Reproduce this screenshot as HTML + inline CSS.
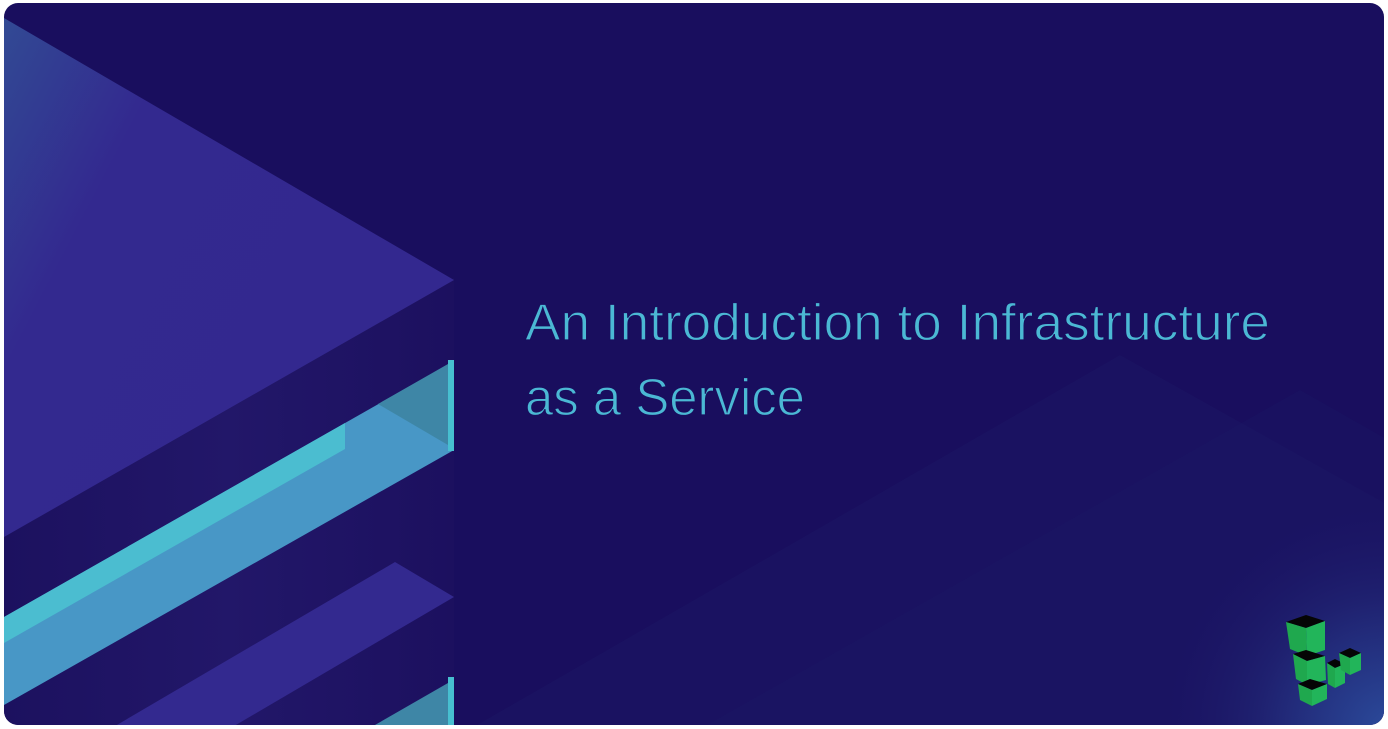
<!DOCTYPE html>
<html><head><meta charset="utf-8"><style>
html,body{margin:0;padding:0;background:#fff;width:1388px;height:729px;overflow:hidden}
svg{display:block}
</style></head><body>
<svg width="1388" height="729" viewBox="0 0 1388 729" xmlns="http://www.w3.org/2000/svg">
<defs>
<clipPath id="c"><rect x="4" y="3" width="1380" height="722" rx="14"/></clipPath>
<linearGradient id="tri" x1="0" y1="0" x2="1" y2="0.6">
<stop offset="0" stop-color="#324a94"/><stop offset="0.3" stop-color="#33298f"/><stop offset="1" stop-color="#33288f"/>
</linearGradient>
<linearGradient id="band" x1="0" y1="0" x2="1" y2="0">
<stop offset="0" stop-color="#1c115f"/><stop offset="0.5" stop-color="#221769"/><stop offset="1" stop-color="#1c105f"/>
</linearGradient>
<radialGradient id="glow" cx="1388" cy="729" r="260" gradientUnits="userSpaceOnUse">
<stop offset="0" stop-color="#2b4a9a"/><stop offset="0.5" stop-color="#1f2170"/><stop offset="1" stop-color="#190e5e" stop-opacity="0"/>
</radialGradient>
</defs>
<g clip-path="url(#c)">
<rect x="0" y="0" width="1388" height="729" fill="#190e5e"/>
<polygon points="470,729 1120,355 1388,505 1388,729" fill="#1c1563" opacity="0.5"/>
<polygon points="700,729 1300,390 1388,440 1388,729" fill="#1c1a68" opacity="0.3"/>
<rect x="1100" y="480" width="288" height="249" fill="url(#glow)"/>
<polygon points="4,537 454,278 454,729 4,729" fill="url(#band)"/>
<polygon points="4,18 454,280 4,537" fill="url(#tri)"/>
<polygon points="4,617 454,361 454,450 4,705" fill="#4897c6"/>
<polygon points="4,617 345,423 345,449 4,643" fill="#4bbdd0"/>
<polygon points="378,404 448,364 448,445" fill="#3e86a6"/>
<rect x="448" y="360" width="6" height="91" fill="#47bfd0"/>
<polygon points="110,729 395,562 454,597 229,729" fill="#33298f"/>
<polygon points="368,729 448,683 448,729" fill="#3e86a6"/>
<rect x="448" y="677" width="6" height="52" fill="#47bfd0"/>
<text x="525" y="340" font-family="Liberation Sans, sans-serif" font-size="52" fill="#4bb8d4" stroke="#190e5e" stroke-width="1.2" textLength="745" lengthAdjust="spacingAndGlyphs">An Introduction to Infrastructure</text>
<text x="525" y="415" font-family="Liberation Sans, sans-serif" font-size="52" fill="#4bb8d4" stroke="#190e5e" stroke-width="1.2" textLength="280" lengthAdjust="spacingAndGlyphs">as a Service</text>
<g>
<polygon points="1286,622 1306,615 1325,621 1306,628" fill="#050505"/>
<polygon points="1286,622 1306,628 1307,656 1290,649" fill="#1fa84e"/>
<polygon points="1306,628 1325,621 1325,650 1307,656" fill="#22b55a"/>
<polygon points="1293,654 1306,650 1325,656 1307,661" fill="#050505"/>
<polygon points="1293,654 1307,661 1307,685 1296,679" fill="#1fa84e"/>
<polygon points="1307,661 1325,656 1326,680 1307,685" fill="#22b55a"/>
<polygon points="1298,684 1310,679 1327,684 1312,690" fill="#050505"/>
<polygon points="1298,684 1312,690 1312,706 1300,700" fill="#1fa84e"/>
<polygon points="1312,690 1327,684 1327,699 1312,706" fill="#22b55a"/>
<polygon points="1327,663 1335,659 1345,664 1335,668" fill="#050505"/>
<polygon points="1327,663 1335,668 1335,688 1328,684" fill="#1fa84e"/>
<polygon points="1335,668 1345,664 1345,683 1335,688" fill="#22b55a"/>
<polygon points="1339,653 1350,648 1361,653 1350,658" fill="#050505"/>
<polygon points="1339,653 1350,658 1350,675 1341,670" fill="#1fa84e"/>
<polygon points="1350,658 1361,653 1361,670 1350,675" fill="#22b55a"/>
</g>
</g>
</svg>
</body></html>
